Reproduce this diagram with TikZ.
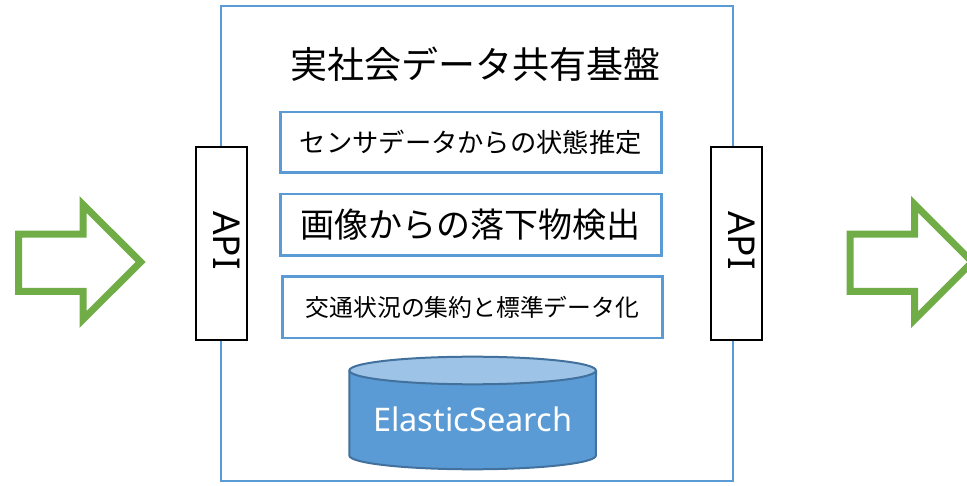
\documentclass[tikz,border=0pt]{standalone}
\usepackage{fontspec}
\setmainfont{Noto Sans CJK JP}
\newfontfamily\latinfont{Noto Sans}
\definecolor{boxblue}{HTML}{5B9BD5}
\definecolor{cyltop}{HTML}{9DC3E6}
\definecolor{cylborder}{HTML}{41719C}
\definecolor{arrowgreen}{HTML}{70AD47}
\tikzset{
  funcbox/.style={draw=boxblue, line width=2.7pt, fill=white, inner sep=0pt, anchor=center},
  apibox/.style={draw=black, line width=2pt, fill=white, inner sep=0pt,
    minimum width=51pt, minimum height=193pt},
  apitext/.style={inner sep=0pt, rotate=-90, font=\latinfont\fontsize{37}{40}\selectfont},
  bigarrow/.style={draw=arrowgreen, line width=7pt, line join=miter, fill=white},
}
\begin{document}
\begin{tikzpicture}[x=1pt,y=1pt]
\useasboundingbox (0,0) rectangle (967,485);
\clip (0,0) rectangle (967,485);
\fill[white] (0,0) rectangle (967,485);

% platform frame
\node[draw=boxblue, line width=2pt, minimum width=512pt, minimum height=475pt, inner sep=0pt] (platform) at (477,241.5) {};

% arrows
\draw[bigarrow] (18.5,250.8) -- (83,250.8) -- (83,280.5) -- (140.6,223) -- (83,165.5) -- (83,193.5) -- (18.5,193.5) -- cycle;
\draw[bigarrow] (850.2,250.8) -- (914.7,250.8) -- (914.7,280.5) -- (972.3,223) -- (914.7,165.5) -- (914.7,193.5) -- (850.2,193.5) -- cycle;

% API boxes
\node[apibox] (apiL) at (221.5,241.5) {};
\node[apitext] (apiLtext) at (226.5,244.5) {API};
\node[apibox] (apiR) at (736.5,241.5) {};
\node[apitext] (apiRtext) at (741.5,244.5) {API};

% title
\node[inner sep=0pt, font=\fontsize{37}{40}\selectfont] (title) at (475.5,421) {実社会データ共有基盤};

% function boxes
\node[funcbox, minimum width=381pt, minimum height=60.7pt, font=\fontsize{26.3}{30}\selectfont] (sensor) at (470.8,342.65) {センサデータからの状態推定};
\node[funcbox, minimum width=381pt, minimum height=61.3pt, font=\fontsize{34}{38}\selectfont] (image) at (470.8,260.35) {画像からの落下物検出};
\node[funcbox, minimum width=380.4pt, minimum height=61.7pt, font=\fontsize{23.8}{28}\selectfont] (traffic) at (472.5,177.85) {交通状況の集約と標準データ化};

% cylinder (ElasticSearch)
\fill[boxblue] (349.3,114.5) -- (349.3,29.5) arc[start angle=180, end angle=360, x radius=123.3pt, y radius=13.8pt] -- (596,114.5) -- cycle;
\draw[cylborder, line width=2pt] (349.3,114.5) -- (349.3,29.5) arc[start angle=180, end angle=360, x radius=123.3pt, y radius=13.8pt] -- (596,114.5);
\draw[cylborder, line width=2pt, fill=cyltop] (472.65,114.5) ellipse[x radius=123.3pt, y radius=13.8pt];
\node[text=white, inner sep=0pt, font=\latinfont\fontsize{32.5}{36}\selectfont] (es) at (472.65,66) {ElasticSearch};
\end{tikzpicture}
\end{document}
